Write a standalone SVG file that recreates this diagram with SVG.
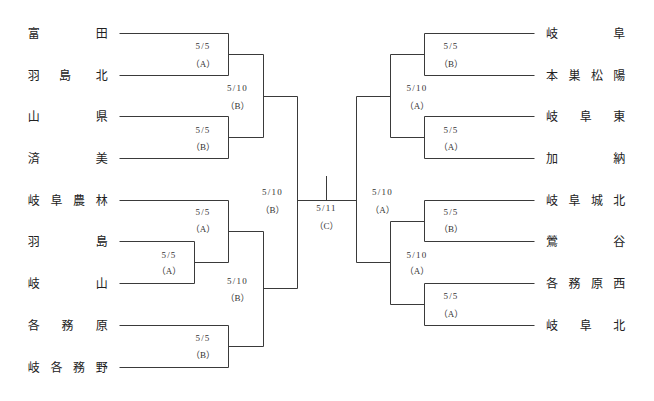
<svg xmlns="http://www.w3.org/2000/svg" width="654" height="401" viewBox="0 0 654 401">
<style>
.bg{fill:#ffffff}
.ln{fill:none;stroke:#3a3a3a;stroke-width:1}
.nm{font-family:"Liberation Serif","Noto Sans CJK JP",serif;font-size:12px;fill:#222;text-anchor:middle;dominant-baseline:central}
.lb{font-family:"Liberation Serif","Noto Sans CJK JP",serif;font-size:9px;fill:#333;text-anchor:middle;dominant-baseline:central}
.dt{letter-spacing:1.2px}
</style>
<rect class="bg" x="0" y="0" width="654" height="401"/>
<g id="connectors">
<!-- left first round -->
<path class="ln" d="M119.5 33.5H228.5V75.5H119.5"/>
<path class="ln" d="M119.5 116.5H228.5V158.5H119.5"/>
<path class="ln" d="M228.5 54.5H263.5M228.5 137.5H263.5M263.5 54.5V137.5M263.5 96.5H297.5"/>
<path class="ln" d="M119.5 200.5H228.5V262.5H194.5"/>
<path class="ln" d="M119.5 241.5H194.5V283.5H119.5"/>
<path class="ln" d="M119.5 325.5H228.5V367.5H119.5"/>
<path class="ln" d="M228.5 231.5H263.5V346.5H228.5M263.5 288.5H297.5"/>
<path class="ln" d="M297.5 96.5V288.5M297.5 200.5H356.5M326.5 176V200.5"/>
<!-- right -->
<path class="ln" d="M356.5 96.5V262.5M356.5 96.5H390.5M356.5 262.5H390.5"/>
<path class="ln" d="M390.5 54.5V137.5M390.5 54.5H424.5M390.5 137.5H424.5"/>
<path class="ln" d="M534.5 33.5H424.5V75.5H534.5"/>
<path class="ln" d="M534.5 116.5H424.5V158.5H534.5"/>
<path class="ln" d="M390.5 221.5V304.5M390.5 221.5H424.5M390.5 304.5H424.5"/>
<path class="ln" d="M534.5 200.5H424.5V241.5H534.5"/>
<path class="ln" d="M534.5 283.5H424.5V325.5H534.5"/>
</g>
<g id="labels">
<text class="lb dt" x="203" y="46">5/5</text><text class="lb" x="203" y="63.5">（A）</text>
<text class="lb dt" x="237.5" y="88">5/10</text><text class="lb" x="237.5" y="106">（B）</text>
<text class="lb dt" x="203" y="129.5">5/5</text><text class="lb" x="203" y="146.5">（B）</text>
<text class="lb dt" x="272.5" y="192">5/10</text><text class="lb" x="272.5" y="210">（B）</text>
<text class="lb dt" x="203" y="212">5/5</text><text class="lb" x="203" y="228.5">（A）</text>
<text class="lb dt" x="169" y="254.5">5/5</text><text class="lb" x="169" y="271">（A）</text>
<text class="lb dt" x="237.5" y="280.5">5/10</text><text class="lb" x="237.5" y="297.5">（B）</text>
<text class="lb dt" x="203" y="337.5">5/5</text><text class="lb" x="203" y="355">（B）</text>
<text class="lb dt" x="326.5" y="208">5/11</text><text class="lb" x="326.5" y="226">（C）</text>
<text class="lb dt" x="451" y="46">5/5</text><text class="lb" x="451" y="63.5">（B）</text>
<text class="lb dt" x="417" y="88">5/10</text><text class="lb" x="417" y="106">（A）</text>
<text class="lb dt" x="451" y="129.5">5/5</text><text class="lb" x="451" y="146.5">（A）</text>
<text class="lb dt" x="382.5" y="192">5/10</text><text class="lb" x="382.5" y="210">（A）</text>
<text class="lb dt" x="451" y="212">5/5</text><text class="lb" x="451" y="228.5">（B）</text>
<text class="lb dt" x="417" y="254.5">5/10</text><text class="lb" x="417" y="271">（A）</text>
<text class="lb dt" x="451" y="296">5/5</text><text class="lb" x="451" y="313.5">（A）</text>
</g>
<g id="team-tomita"><text class="nm" x="33.8 101.7" y="34">富田</text></g>
<g id="team-hashimakita"><text class="nm" x="33.8 65 101.7" y="76">羽島北</text></g>
<g id="team-yamagata"><text class="nm" x="33.8 101.7" y="117">山県</text></g>
<g id="team-seibi"><text class="nm" x="33.8 101.7" y="159">済美</text></g>
<g id="team-gifunorin"><text class="nm" x="33.8 56.4 79.1 101.7" y="201">岐阜農林</text></g>
<g id="team-hashima"><text class="nm" x="33.8 101.7" y="242">羽島</text></g>
<g id="team-gizan"><text class="nm" x="33.8 101.7" y="284">岐山</text></g>
<g id="team-kakamigahara"><text class="nm" x="33.8 67.5 101.7" y="326">各務原</text></g>
<g id="team-gikakumuno"><text class="nm" x="33.8 56.4 79.1 101.7" y="368">岐各務野</text></g>
<g id="team-gifu"><text class="nm" x="552 619.3" y="34">岐阜</text></g>
<g id="team-motosushoyo"><text class="nm" x="552 574.4 596.9 619.3" y="76">本巣松陽</text></g>
<g id="team-gifuhigashi"><text class="nm" x="552 585.8 619.3" y="117">岐阜東</text></g>
<g id="team-kano"><text class="nm" x="552 619.3" y="159">加納</text></g>
<g id="team-gifujohoku"><text class="nm" x="552 574.4 596.9 619.3" y="201">岐阜城北</text></g>
<g id="team-uguisudani"><text class="nm" x="552 619.3" y="242">鶯谷</text></g>
<g id="team-kakamigaharanishi"><text class="nm" x="552 574.4 596.9 619.3" y="284">各務原西</text></g>
<g id="team-gifukita"><text class="nm" x="552 585.8 619.3" y="326">岐阜北</text></g>
</svg>
